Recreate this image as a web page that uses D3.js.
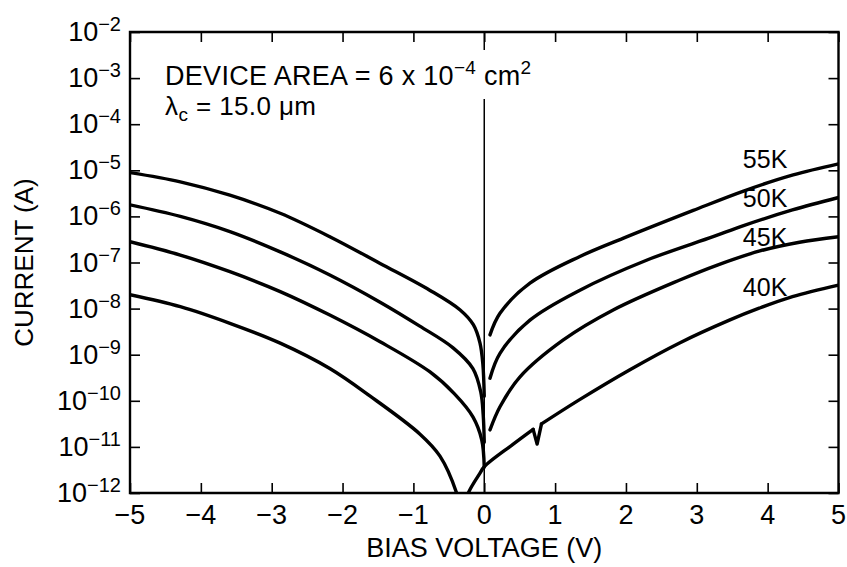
<!DOCTYPE html>
<html>
<head>
<meta charset="utf-8">
<script src="https://cdn.jsdelivr.net/npm/d3@7"></script>
<style>
  body { margin: 0; background: #fff; }
  svg { display: block; }
  text { font-family: "Liberation Sans", Arial, Helvetica, sans-serif; fill: #000; }
</style>
</head>
<body>
<svg id="chart" width="847" height="567"></svg>
<script>
// Axis ticks
const voltageTicks = [-5, -4, -3, -2, -1, 0, 1, 2, 3, 4, 5];
const decadeExponents = [-2, -3, -4, -5, -6, -7, -8, -9, -10, -11, -12];

// Dark current vs. bias, [bias (V), |current| (A)], reverse and forward branches
const temps = ["55K", "50K", "45K", "40K"];

const reverse55 = [[-5, 8.91e-6], [-4.29, 5.62e-6], [-3.59, 2.88e-6], [-2.88, 1.17e-6],
  [-2.18, 3.63e-7], [-1.47, 9.55e-8], [-0.77, 2.51e-8], [-0.34, 9.33e-9], [-0.154, 4.47e-9],
  [-0.06, 1.78e-9], [-0.02, 6.31e-10], [0, 1.26e-10]];
const forward55 = [[0.081, 2.69e-9], [0.222, 7.94e-9], [0.645, 3.55e-8], [1.35, 1.35e-7],
  [2.0, 3.55e-7], [2.95, 1.35e-6], [3.66, 3.55e-6], [4.36, 7.94e-6], [5, 1.38e-5]];

const reverse50 = [[-5, 1.78e-6], [-4.29, 1.0e-6], [-3.59, 4.68e-7], [-2.88, 1.70e-7],
  [-2.18, 5.37e-8], [-1.47, 1.38e-8], [-0.91, 4.17e-9], [-0.44, 1.41e-9], [-0.16, 5.01e-10],
  [-0.05, 1.58e-10], [-0.015, 5.01e-11], [0, 1.26e-11]];
const forward50 = [[0.081, 3.09e-10], [0.222, 1.07e-9], [0.645, 5.62e-9], [1.35, 2.51e-8],
  [2.29, 1.12e-7], [3.23, 3.63e-7], [3.66, 6.31e-7], [4.35, 1.38e-6], [5, 2.57e-6]];

const reverse45 = [[-5, 2.82e-7], [-4.29, 1.45e-7], [-3.59, 6.31e-8], [-2.88, 2.34e-8],
  [-2.18, 7.24e-9], [-1.47, 1.91e-9], [-0.77, 4.27e-10], [-0.42, 1.41e-10], [-0.16, 4.47e-11],
  [-0.035, 1.41e-11], [0, 3.63e-12]];
const forward45 = [[0.081, 2.34e-11], [0.222, 7.41e-11], [0.505, 3.31e-10], [1.116, 2.09e-9],
  [1.82, 9.33e-9], [2.76, 4.17e-8], [3.3, 8.91e-8], [3.89, 1.78e-7], [4.45, 2.75e-7], [5, 3.63e-7]];

const reverse40 = [[-5, 2.0e-8], [-4.29, 1.10e-8], [-3.59, 4.79e-9], [-2.88, 1.78e-9],
  [-2.18, 5.01e-10], [-1.61, 1.26e-10], [-0.91, 1.91e-11], [-0.625, 6.31e-12], [-0.39, 1.0e-12],
  [-0.33, 3.98e-13]];
// the 40K forward sweep has a brief dip just below 0.75 V
const forward40 = [[-0.3, 3.98e-13], [-0.225, 1.0e-12], [-0.06, 2.69e-12], [0, 3.72e-12],
  [0.40, 1.12e-11], [0.69, 2.40e-11], [0.746, 1.15e-11], [0.808, 3.16e-11],
  [1.34, 1.05e-10], [2.05, 4.68e-10], [2.75, 1.78e-9], [3.46, 5.62e-9],
  [3.88, 1.02e-8], [4.35, 1.82e-8], [5, 3.24e-8]];

// Where each temperature tag sits, [bias (V), current (A)] at its baseline
const tagAnchors = [[3.65, 1.1e-5], [3.65, 1.58e-6], [3.65, 2.29e-7], [3.65, 1.9e-8]];

const branches = [reverse55, forward55, reverse50, forward50,
                  reverse45, forward45, reverse40, forward40];

// ---- layout ----
const W = 847, H = 567;
const margin = { top: 32, right: 8.5, bottom: 74, left: 130 };
const svg = d3.select("#chart");

const x = d3.scaleLinear().domain([-5, 5]).range([margin.left, W - margin.right]);
const y = d3.scaleLog().domain([1e-12, 1e-2]).range([H - margin.bottom, margin.top]);

const x0 = x.range()[0], x1 = x.range()[1];
const yTop = y.range()[1], yBot = y.range()[0];

svg.append("defs").append("clipPath").attr("id", "plot-clip")
  .append("rect").attr("x", x0).attr("y", yTop).attr("width", x1 - x0).attr("height", yBot - yTop);

// ---- ticks on all four sides, pointing inward ----
const tickLen = 10;
const axisStyle = g => {
  g.select(".domain").remove();
  g.selectAll(".tick line").attr("stroke", "#000").attr("stroke-width", 1.6);
  g.selectAll(".tick text").remove();
};
svg.append("g").attr("transform", `translate(0,${yBot})`)
  .call(d3.axisBottom(x).tickValues(voltageTicks).tickSize(-tickLen).tickSizeOuter(0)).call(axisStyle);
svg.append("g").attr("transform", `translate(0,${yTop})`)
  .call(d3.axisTop(x).tickValues(voltageTicks).tickSize(-tickLen).tickSizeOuter(0)).call(axisStyle);
const decades = decadeExponents.map(e => Math.pow(10, e));
svg.append("g").attr("transform", `translate(${x0},0)`)
  .call(d3.axisLeft(y).tickValues(decades).tickSize(-tickLen).tickSizeOuter(0)).call(axisStyle);
svg.append("g").attr("transform", `translate(${x1},0)`)
  .call(d3.axisRight(y).tickValues(decades).tickSize(-tickLen).tickSizeOuter(0)).call(axisStyle);

// frame
svg.append("path")
  .attr("d", `M${x0},${yTop}H${x1}V${yBot}H${x0}Z`)
  .attr("fill", "none").attr("stroke", "#000").attr("stroke-width", 2.4);

// ---- tick labels ----
const fmt = d3.format("d");
svg.append("g").selectAll("text").data(voltageTicks).join("text")
  .attr("x", d => x(d)).attr("y", yBot + 31)
  .attr("text-anchor", "middle").attr("font-size", 27)
  .text(d => fmt(d));

const yLabels = svg.append("g").selectAll("text").data(decadeExponents).join("text")
  .attr("x", x0 - 9).attr("y", d => y(Math.pow(10, d)) + 9)
  .attr("text-anchor", "end").attr("font-size", 27);
yLabels.append("tspan").text("10");
yLabels.append("tspan").attr("dy", -10).attr("font-size", 20).text(d => fmt(d));

// ---- axis titles ----
svg.append("text")
  .attr("x", (x0 + x1) / 2).attr("y", 557)
  .attr("text-anchor", "middle").attr("font-size", 27)
  .text("BIAS VOLTAGE (V)");
svg.append("text")
  .attr("transform", `translate(33,${(yTop + yBot) / 2}) rotate(-90)`)
  .attr("text-anchor", "middle").attr("font-size", 26)
  .text("CURRENT (A)");

// ---- device annotation ----
const note = svg.append("g");
const noteLine1 = note.append("text").attr("x", x0 + 35).attr("y", 85)
  .attr("font-size", 27).attr("letter-spacing", 0.3);
noteLine1.append("tspan").text("DEVICE AREA = 6 x 10");
noteLine1.append("tspan").attr("dy", -11).attr("font-size", 19).text("\u22124");
noteLine1.append("tspan").attr("dy", 11).text(" cm");
noteLine1.append("tspan").attr("dy", -11).attr("font-size", 19).text("2");

const noteLine2 = note.append("text").attr("x", x0 + 35).attr("y", 115)
  .attr("font-size", 26).attr("letter-spacing", 0.4);
noteLine2.append("tspan").text("\u03bb");
noteLine2.append("tspan").attr("dy", 6).attr("font-size", 19).text("c");
noteLine2.append("tspan").attr("dy", -6).text(" = 15.0 \u03bcm");

// zero-bias reference line, broken where the first annotation row crosses it
const bb = noteLine1.node().getBBox();
svg.append("line")
  .attr("x1", x(0)).attr("x2", x(0)).attr("y1", bb.y + bb.height + 8).attr("y2", yBot)
  .attr("stroke", "#000").attr("stroke-width", 1.5);
svg.append("line")
  .attr("x1", x(0)).attr("x2", x(0)).attr("y1", yTop).attr("y2", yTop + 18)
  .attr("stroke", "#000").attr("stroke-width", 1.5);

// ---- I-V curves ----
const smoothLine = d3.line()
  .x(d => x(d[0])).y(d => y(d[1]))
  .curve(d3.curveCatmullRom.alpha(0.5));
const straightLine = d3.line()
  .x(d => x(d[0])).y(d => y(d[1]));

// a sharp dip inside a sweep is drawn with straight edges, the rest smoothly
function splitAtDip(branch) {
  for (let i = 1; i < branch.length - 1; i++) {
    if (branch[i][1] < branch[i - 1][1] && branch[i][1] < branch[i + 1][1]) {
      return [
        { pts: branch.slice(0, i), smooth: true },
        { pts: branch.slice(i - 1, i + 2), smooth: false },
        { pts: branch.slice(i + 1), smooth: true }
      ];
    }
  }
  return [{ pts: branch, smooth: true }];
}
const pieces = branches.flatMap(splitAtDip);

svg.append("g").attr("clip-path", "url(#plot-clip)")
  .selectAll("path").data(pieces).join("path")
  .attr("d", p => (p.smooth ? smoothLine : straightLine)(p.pts))
  .attr("fill", "none").attr("stroke", "#000")
  .attr("stroke-width", 3.4).attr("stroke-linejoin", "round").attr("stroke-linecap", "round");

// ---- temperature tags ----
svg.append("g").selectAll("text").data(temps).join("text")
  .attr("x", (d, i) => x(tagAnchors[i][0]))
  .attr("y", (d, i) => y(tagAnchors[i][1]))
  .attr("font-size", 25)
  .text(d => d);
</script>
</body>
</html>
